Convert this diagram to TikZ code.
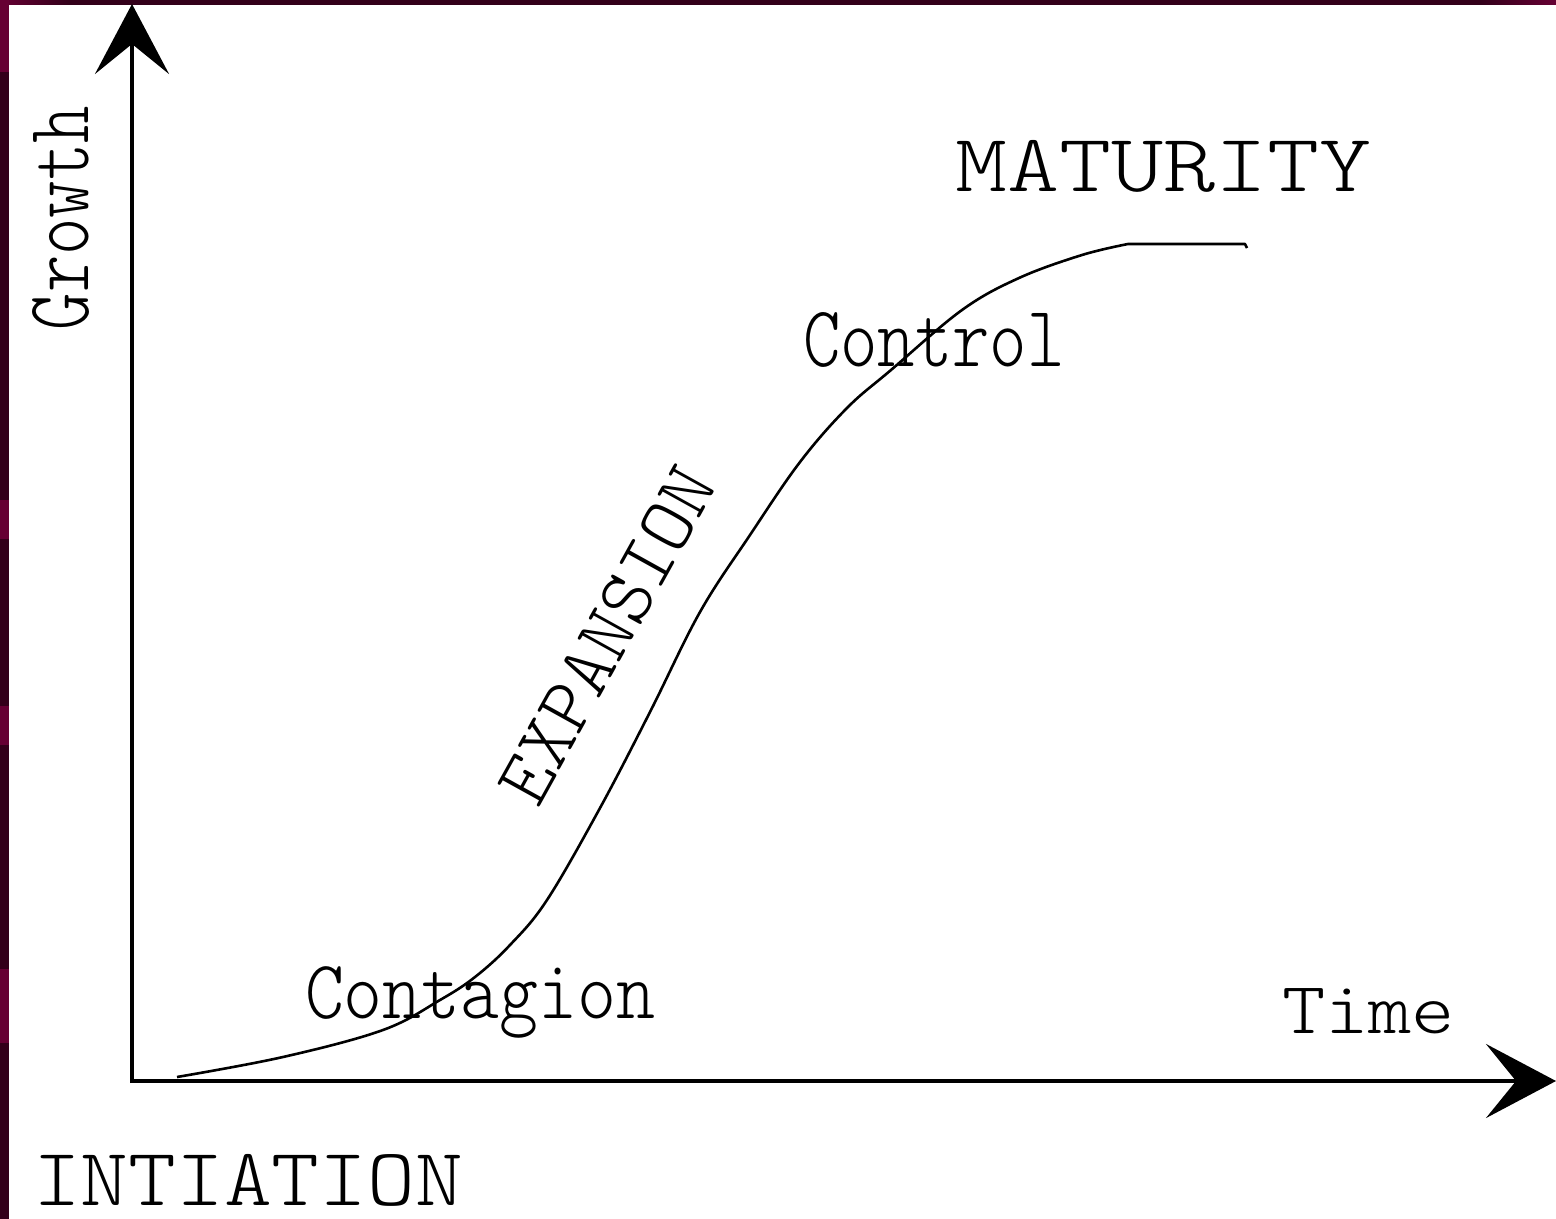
\documentclass[tikz,border=0pt]{standalone}
\usepackage{fontspec}
\usetikzlibrary{arrows.meta}
\newfontfamily\typefont{lmmonolt10-regular.otf}
\definecolor{framedark}{HTML}{33001A}
\definecolor{framebright}{HTML}{660033}
\begin{document}
\begin{tikzpicture}[x=0.5pt,y=-0.5pt,
  axisline/.style={line width=2pt,-{Stealth[length=35pt,width=37pt,inset=15pt]}},
  growthcurve/.style={line width=1.3pt,line join=round},
  lbl/.style={inner sep=0pt,outer sep=0pt,font=\typefont}]
  % page and frame
  \fill[white] (0,0) rectangle (1556,1219);
  \useasboundingbox (0,0) rectangle (1556,1219);
  \fill[framedark] (0,0) rectangle (8.5,1219);
  \fill[framedark] (0,0) rectangle (1556,5);
  \shade[left color=framebright,right color=framedark] (0,0) rectangle (70,5);
  \shade[left color=framedark,right color=framebright] (1480,0) rectangle (1556,5);
  \fill[framebright] (0,0) rectangle (8.5,72);
  \fill[framebright] (0,500) rectangle (8.5,539);
  \fill[framebright] (0,706) rectangle (8.5,745);
  \fill[framebright] (0,969) rectangle (8.5,1043);

  % axes
  \coordinate (ybase) at (132,1083);
  \coordinate (xbase) at (130,1081);
  \coordinate (ytip) at (132,4);
  \coordinate (xtip) at (1556,1081);
  \draw[axisline] (ybase) -- (ytip);
  \draw[axisline] (xbase) -- (xtip);

  % S-shaped growth curve
  \draw[growthcurve] plot[smooth,tension=0.6] coordinates {
    (177,1077) (283,1057) (383,1030) (440,1000) (475,977) (510,945)
    (547,900) (600,808) (650,712) (700,612) (750,535) (800,462)
    (847,408) (891,370) (962,310) (1019,278) (1082,255) (1128,244)}
    -- (1245,244) -- (1247,248);

  % labels
  \node[lbl,anchor=base west] (maturity) at (955,192)
    {\fontsize{41}{41}\selectfont\scalebox{1.21}[1]{MATURITY}};
  \node[lbl,anchor=base west] (control) at (803,366)
    {\fontsize{43.4}{43.4}\selectfont\scalebox{0.82}[1]{Control}};
  \node[lbl,anchor=base west] (contagion) at (305,1018)
    {\fontsize{41.7}{41.7}\selectfont\scalebox{0.89}[1]{Contagion}};
  \node[lbl,anchor=base west] (time) at (1282,1033)
    {\fontsize{36.8}{36.8}\selectfont\scalebox{1.12}[1]{Time}};
  \node[lbl,anchor=base west] (initiation) at (33,1205)
    {\fontsize{41}{41}\selectfont\scalebox{1.11}[1]{INTIATION}};
  \node[lbl,rotate=61] (expansion) at (607,635)
    {\fontsize{39.3}{39.3}\selectfont EXPANSION};
  \node[lbl,rotate=90,anchor=base west] (growth) at (88,330)
    {\fontsize{45}{45}\selectfont\scalebox{0.79}[1]{Growth}};
\end{tikzpicture}
\end{document}
